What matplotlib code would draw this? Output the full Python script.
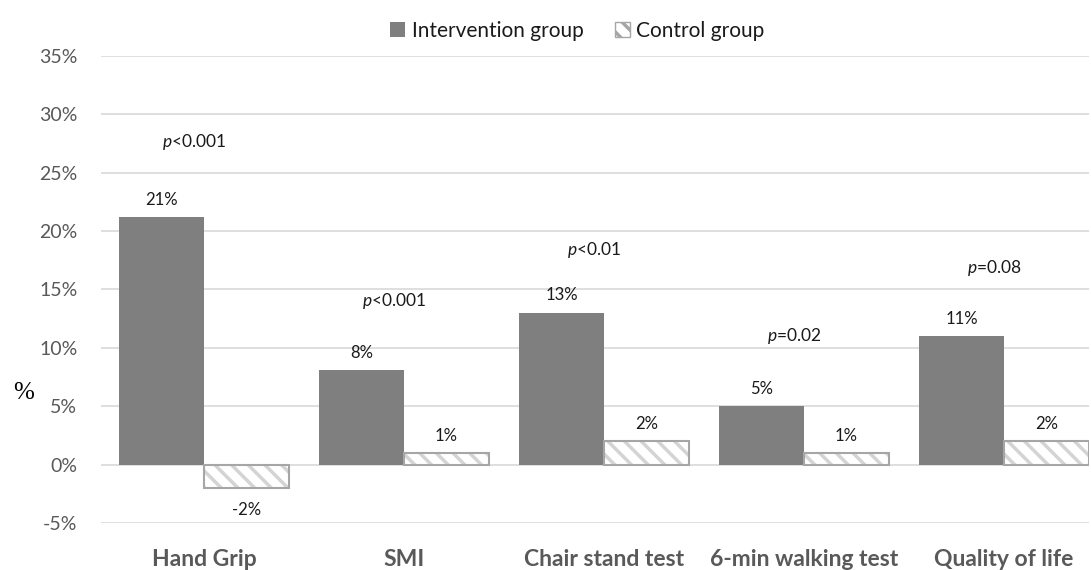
import numpy as np
import matplotlib.pyplot as plt
from matplotlib.patches import Patch

categories = ['Hand Grip', 'SMI', 'Chair stand test', '6-min walking test', 'Quality of life']
intervention = [21.2, 8.1, 13.0, 5.0, 11.0]
control = [-2.0, 1.0, 2.0, 1.0, 2.0]
interv_labels = ['21%', '8%', '13%', '5%', '11%']
control_labels = ['-2%', '1%', '2%', '1%', '2%']
p_labels = ['<0.001', '<0.001', '<0.01', '=0.02', '=0.08']
p_heights = [27.6, 14.0, 18.4, 11.0, 16.8]

plt.rcParams['font.family'] = ['Lato', 'DejaVu Sans']
plt.rcParams['mathtext.fontset'] = 'custom'
plt.rcParams['mathtext.it'] = 'Lato:italic'
plt.rcParams['mathtext.rm'] = 'Lato'
plt.rcParams['hatch.color'] = '#d4d4d4'
plt.rcParams['hatch.linewidth'] = 2.5
grey_text = '#595959'

fig = plt.figure(figsize=(10.91, 5.70), dpi=100)
ax = fig.add_axes([101 / 1091, 0.0825, 988 / 1091, 0.8193])

x = np.arange(len(categories))
w = 0.425
ax.bar(x - w / 2, intervention, w, color='#7f7f7f', zorder=3)
# hatch fill first, outline on top
ax.bar(x + w / 2, control, w, color='white', edgecolor='#d4d4d4', hatch='\\\\',
       linewidth=0, zorder=3)
ax.bar(x + w / 2, control, w, fill=False, edgecolor='#a6a6a6', linewidth=1.5, zorder=4)

for i in range(len(categories)):
    ax.text(x[i] - w / 2, intervention[i] + 0.8, interv_labels[i], ha='center', va='bottom',
            fontsize=12, color='#1a1a1a')
    if control[i] < 0:
        ax.text(x[i] + w / 2, control[i] - 1.85, control_labels[i], ha='center', va='center',
                fontsize=12, color='#1a1a1a')
    else:
        ax.text(x[i] + w / 2, control[i] + 0.8, control_labels[i], ha='center', va='bottom',
                fontsize=12, color='#1a1a1a')
    ax.text(x[i] - 0.05, p_heights[i], r'$\it{p}$' + p_labels[i], ha='center', va='center',
            fontsize=12.5, color='#1a1a1a')

ax.set_xlim(-0.515, 4.425)
ax.set_ylim(-5, 35)
ax.set_yticks(np.arange(-5, 36, 5))
ax.set_yticklabels([f'{v}%' for v in range(-5, 36, 5)], fontsize=14, color=grey_text)
ax.set_xticks(x)
ax.set_xticklabels(categories, fontsize=16.5, fontweight='bold', color=grey_text)
ax.tick_params(axis='both', length=0)
ax.tick_params(axis='y', pad=17)
ax.tick_params(axis='x', pad=19)
ax.grid(axis='y', color='#d9d9d9', linewidth=1.2, zorder=0)
for s in ax.spines.values():
    s.set_visible(False)

fig.text(0.012, 0.31, '%', fontsize=18, family='Liberation Serif', ha='left', va='center')

handles = [Patch(facecolor='#7f7f7f', label='Intervention group'),
           Patch(facecolor='white', edgecolor='#a6a6a6', hatch='\\\\', label='Control group')]
ax.legend(handles=handles, loc='upper center', bbox_to_anchor=(0.482, 1.115), ncol=2,
          frameon=False, fontsize=15, handlelength=0.75, handleheight=0.75,
          columnspacing=1.5, handletextpad=0.3, labelcolor='#1a1a1a')

fig.savefig('out.png', dpi=100)
